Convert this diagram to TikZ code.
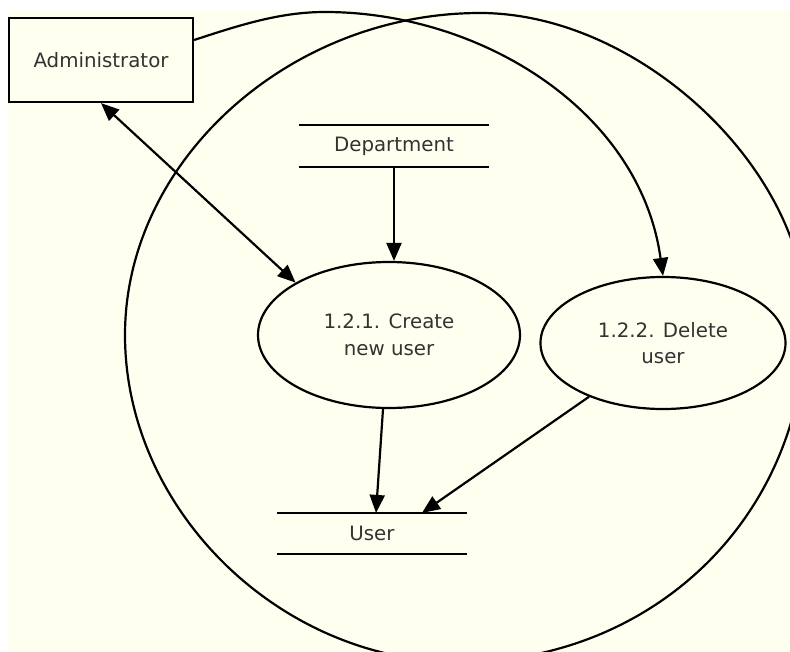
\documentclass[tikz,border=0pt]{standalone}
\usepackage{fontspec}
\setmainfont{DejaVu Sans}
\usetikzlibrary{arrows.meta,shapes.geometric}

\definecolor{paper}{RGB}{255,255,240}

\tikzset{
  tok/.style={-{Triangle[length=18pt,width=15pt]}},
  dvatok/.style={{Triangle[length=18pt,width=15pt]}-{Triangle[length=18pt,width=15pt]}},
  proc/.style={ellipse,draw,align=center,inner sep=0pt},
  store/.style={minimum width=188pt,minimum height=40pt,inner sep=0pt}
}

\begin{document}
\begin{tikzpicture}[x=1pt,y=-1pt,line width=2.2pt,text=black!80,font=\fontsize{19.8pt}{26.5pt}\selectfont]
\useasboundingbox (0,0) rectangle (790,651);
\clip (0,0) rectangle (790,651);
\fill[white] (0,0) rectangle (790,651);
\fill[paper] (8,10) rectangle (790,651);

\coordinate (t) at (480,13);
\coordinate (r) at (806,318);
\coordinate (b) at (460,662);
\coordinate (l) at (125,335);

% pomozna tocka
\coordinate (apex) at (325,12);

\node[draw,minimum width=184pt,minimum height=84pt] (adm) at (101,60) {Administrator};
\node[store] (dep) at (394,146) {Department};
\node[proc,minimum width=262pt,minimum height=146pt] (p1) at (389,335) {1.2.1. Create\\new user};
\node[proc,minimum width=245pt,minimum height=132pt] (p2) at (663,343) {1.2.2. Delete\\user};
\node[store,minimum height=39pt] (usr) at (372,533.5) {User};

\foreach \s in {dep,usr}
\draw[line width=2.5pt] (\s.north west)--(\s.north east) (\s.south west)--(\s.south east);

\draw (t) .. controls (640,13) and (806,170) .. (r)
  .. controls (806,520) and (650,662) .. (b)
  .. controls (280,662) and (125,510) .. (l)
  .. controls (125,160) and (290,13) .. (t);

\draw[tok] (dep.south)--(dep.south |- p1.north);
\draw[dvatok] (adm.south)--(p1.north west);
\draw[tok] ([xshift=-6pt]p1.south)--([xshift=4pt]usr.north);
\draw[tok] (p2.216)--([xshift=50pt]usr.north);
\draw[tok] ([yshift=20pt]adm.east) .. controls (240,25) and (280,12) .. (apex)
  .. controls (480,12) and (640,110) .. (p2.north);
\end{tikzpicture}
\end{document}
